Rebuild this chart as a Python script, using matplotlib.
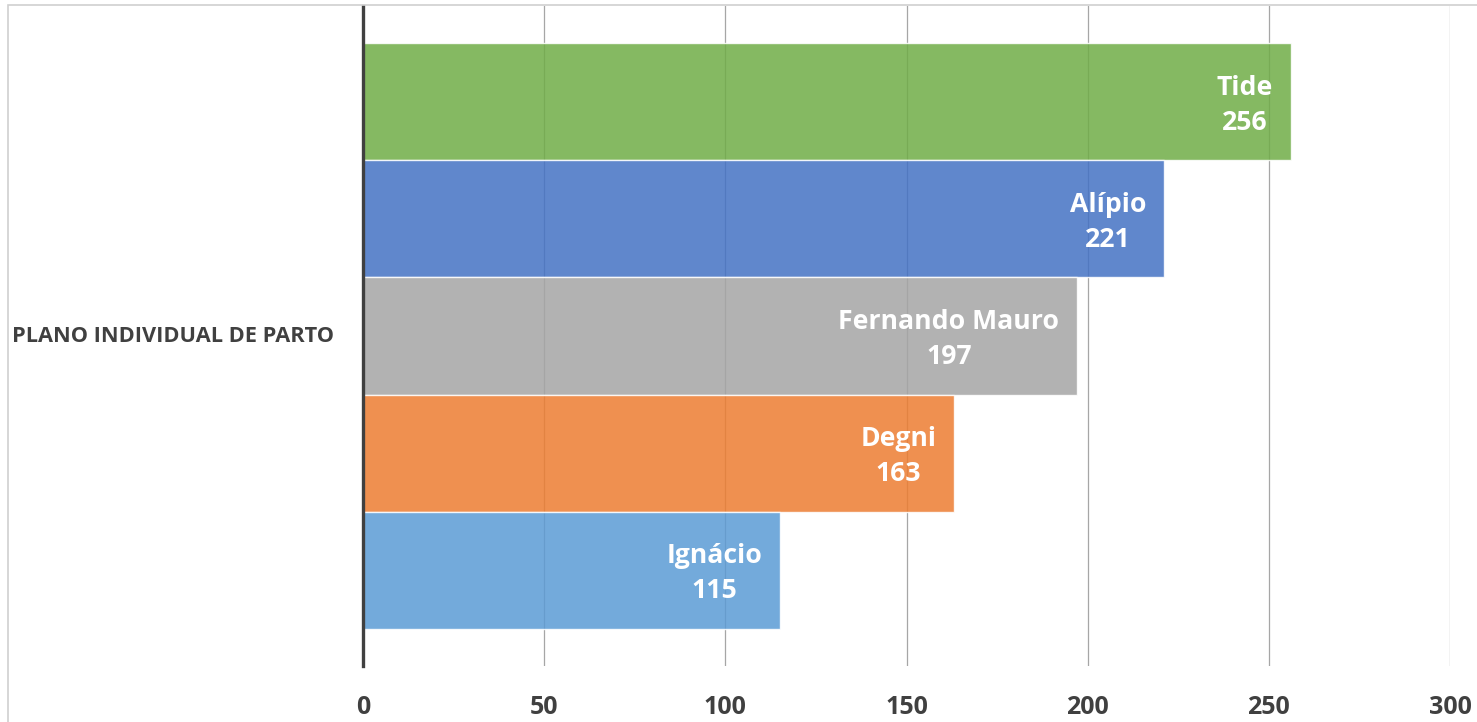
import matplotlib
matplotlib.use("Agg")
import matplotlib.pyplot as plt
from matplotlib.patches import Rectangle

plt.rcParams['font.family'] = ['Open Sans', 'DejaVu Sans']

# data
category = "PLANO INDIVIDUAL DE PARTO"
names = ["Tide", "Alípio", "Fernando Mauro", "Degni", "Ignácio"]
values = [256, 221, 197, 163, 115]
colors = ["#70AD47", "#4472C4", "#A5A5A5", "#ED7D31", "#5B9BD5"]
xticks = [0, 50, 100, 150, 200, 250, 300]

fig = plt.figure(figsize=(14.77, 7.22), dpi=100)
ax = fig.add_axes([363/1477, 1 - 666/722, (1450-363)/1477, (666-6)/722])

n = len(values)
for i in range(n):
    y = (n - 1) / 2.0 - i
    ax.barh(y, values[i], height=1.0, color=colors[i], alpha=0.85,
            edgecolor='white', linewidth=1.0, zorder=3)
    # label sits inside the bar end, name over value
    ax.annotate(names[i] + "\n" + str(values[i]), xy=(values[i], y),
                xytext=(-12.5, -2.2), textcoords='offset points',
                ha='right', va='center', multialignment='center',
                color='white', fontsize=19.2, fontweight='bold',
                linespacing=1.45, zorder=4)

ax.set_xlim(0, 300)
ax.set_ylim(-2.82, 2.82)
ax.set_xticks(xticks)
ax.set_yticks([])
ax.grid(axis='x', color='#A6A6A6', linewidth=0.9, zorder=0)
for s in ['top', 'right', 'bottom']:
    ax.spines[s].set_visible(False)
ax.spines['left'].set_color('#404040')
ax.spines['left'].set_linewidth(2.4)
ax.spines['left'].set_zorder(5)
ax.tick_params(axis='x', length=0, pad=21, labelsize=18, labelcolor='#404040')
for lab in ax.get_xticklabels():
    lab.set_fontweight('bold')

fig.text(12/1477, 1 - 336/722, category, ha='left', va='center',
         fontsize=15.7, fontweight='bold', color='#404040')

# outer chart border
fig.patches.append(Rectangle((8/1477, -0.05), 1.1, 1 - 5/722 + 0.05,
                             transform=fig.transFigure, fill=False,
                             edgecolor='#D0D0D0', linewidth=1.2))

fig.savefig("out.png", dpi=100)
